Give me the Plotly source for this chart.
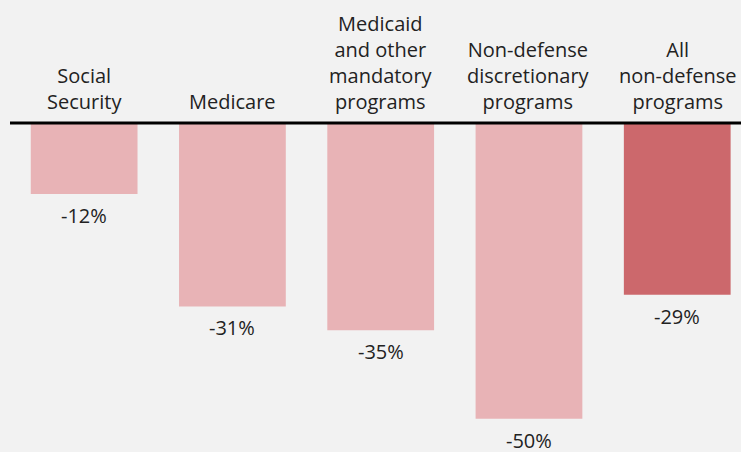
import plotly.graph_objects as go

categories = ["Social<br>Security", "Medicare", "Medicaid<br>and other<br>mandatory<br>programs",
              "Non-defense<br>discretionary<br>programs", "All<br>non-defense<br>programs"]
values = [-12, -31, -35, -50, -29]
value_labels = ["-12%", "-31%", "-35%", "-50%", "-29%"]
colors = ["#e8b3b6", "#e8b3b6", "#e8b3b6", "#e8b3b6", "#cc686c"]

x = list(range(len(categories)))

fig = go.Figure()
fig.add_trace(go.Bar(x=x, y=values, marker=dict(color=colors, line=dict(width=0)),
                     width=0.72, hoverinfo="skip"))

font = dict(family="Open Sans, sans-serif", size=20, color="#222222")
for i, (c, v, lbl) in enumerate(zip(categories, values, value_labels)):
    fig.add_annotation(x=i, y=0, text=c, showarrow=False, yanchor="bottom",
                       yshift=6, font=font, align="center")
    fig.add_annotation(x=i, y=v, text=lbl, showarrow=False, yanchor="top",
                       yshift=-6, font=font)

fig.add_shape(type="line", xref="paper", x0=0, x1=1, yref="y", y0=0, y1=0,
              line=dict(color="#000000", width=3))

fig.update_layout(
    width=741, height=452,
    margin=dict(l=10, r=0, t=0, b=0),
    paper_bgcolor="#f2f2f2", plot_bgcolor="#f2f2f2",
    showlegend=False,
    xaxis=dict(range=[-0.5, 4.43], visible=False),
    yaxis=dict(range=[-55.6, 20.8], visible=False),
)
fig.write_html("out.html", config={"displayModeBar": False},
               post_script="document.body.style.margin='0';document.body.style.background='#f2f2f2';")
